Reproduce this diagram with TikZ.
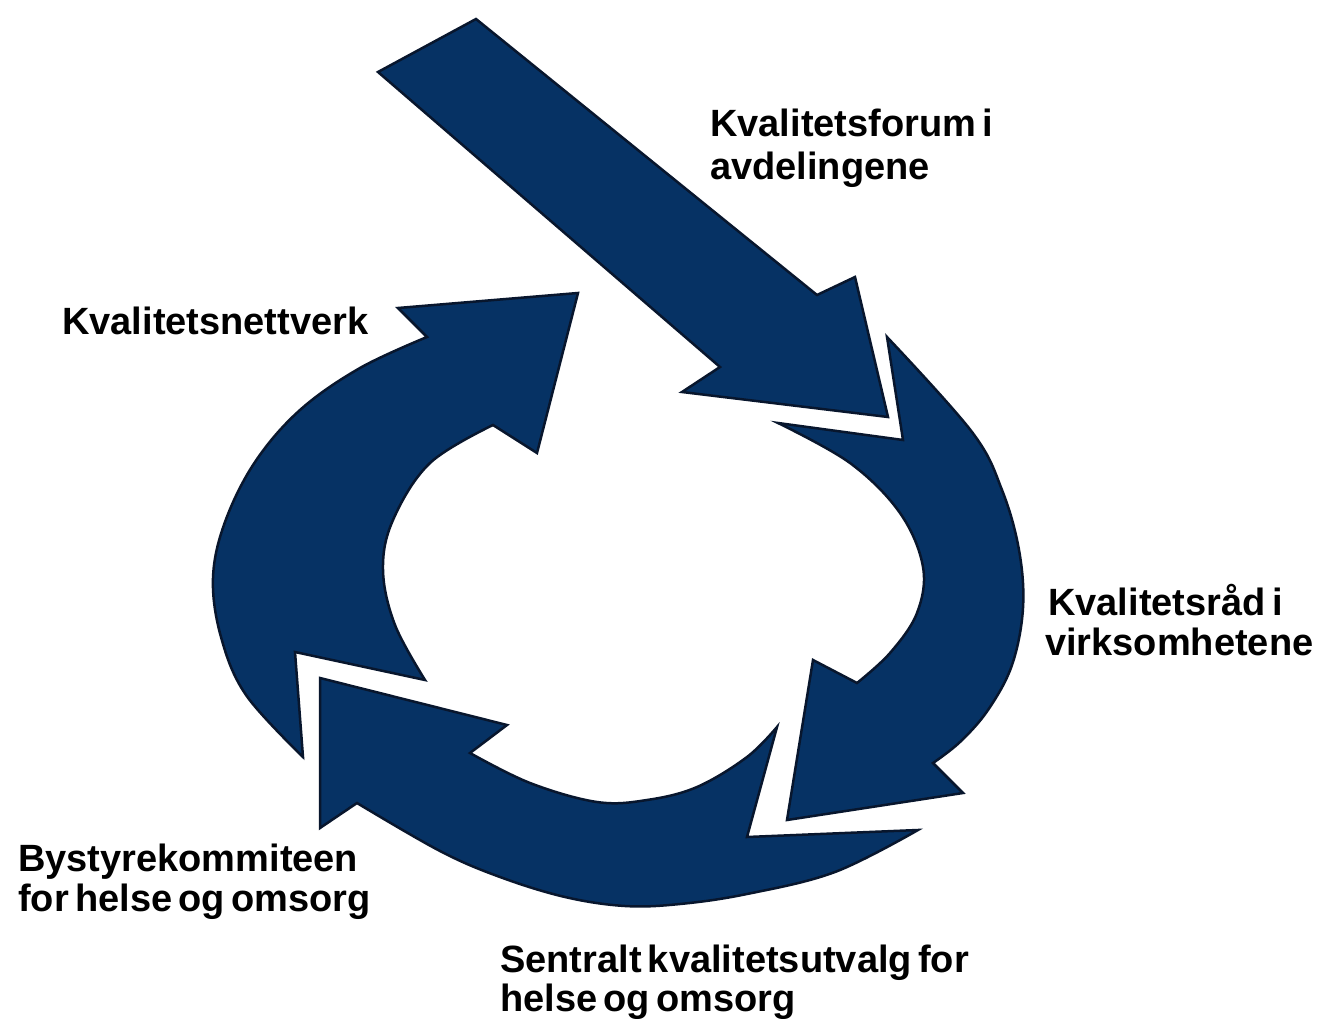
\documentclass[tikz,border=0pt]{standalone}
\usepackage{fontspec}
\setmainfont[WordSpace=0.6]{Liberation Sans}
\definecolor{navy}{RGB}{6,50,100}
\definecolor{edgecol}{RGB}{8,22,45}
\begin{document}
\begin{tikzpicture}[x=1pt,y=-1pt,
  arrowshape/.style={fill=navy, draw=edgecol, line width=2.5pt, line join=miter},
  lbl/.style={font=\bfseries\fontsize{38}{43}\selectfont, inner sep=0pt, anchor=base west}]
\fill[white] (0,0) rectangle (1320,1019);
\useasboundingbox (0,0) rectangle (1320,1019);

% straight arrow from the top
\path[arrowshape] (378,72) -- (476,19) -- (817,295) -- (855,277) -- (888,417)
  -- (682,392) -- (720,367) -- cycle;

% left curved arrow (upwards)
\path[arrowshape] (303,757) -- (295,652) -- (425,680)
  -- plot[smooth, tension=0.6] coordinates {(425,680) (395,625) (383,570) (393,520) (430,463) (493,425)}
  -- (537,453) -- (578,293) -- (398,308) -- (427,337)
  -- plot[smooth, tension=0.6] coordinates {(427,337) (360,368) (300,410) (255,462) (225,522) (213,578) (221,637) (246,695) (303,757)}
  -- cycle;

% right curved arrow (downwards)
\path[arrowshape] (887,337) -- (903,440) -- (778,423)
  -- plot[smooth, tension=0.6] coordinates {(778,423) (850,463) (900,513) (923,567) (917,613) (890,653) (857,683)}
  -- (813,660) -- (787,820) -- (963,793) -- (933,763)
  -- plot[smooth, tension=0.6] coordinates {(933,763) (960,742) (988,710) (1012,665) (1023,608) (1019,550) (1002,490) (972,432) (887,337)}
  -- cycle;

% bottom curved arrow (leftwards)
\path[arrowshape] (777,727) -- (747,837) -- (918,830)
  -- plot[smooth, tension=0.6] coordinates {(918,830) (835,872) (747,894) (680,904) (625,906) (565,897) (500,877) (440,851) (357,803)}
  -- (320,828) -- (320,678) -- (507,725) -- (470,753)
  -- plot[smooth, tension=0.6] coordinates {(470,753) (530,783) (597,802) (647,800) (697,787) (747,757) (777,727)}
  -- cycle;

% labels
\node[lbl] (forumA) at (710,137) {Kvalitetsforum i};
\node[lbl] (forumB) at (710,180) {avdelingene};
\node[lbl] (nett) at (62,334) {Kvalitetsnettverk};
\node[lbl] (raadA) at (1048,615) {Kvalitetsråd i};
\node[lbl] (raadB) at (1045,655) {virksomhetene};
\node[lbl] (bystyreA) at (18,871) {Bystyrekommiteen};
\node[lbl] (bystyreB) at (18,911) {for helse og omsorg};
\node[lbl] (sentralA) at (500,972) {Sentralt kvalitetsutvalg for};
\node[lbl] (sentralB) at (500,1011) {helse og omsorg};
\end{tikzpicture}
\end{document}
